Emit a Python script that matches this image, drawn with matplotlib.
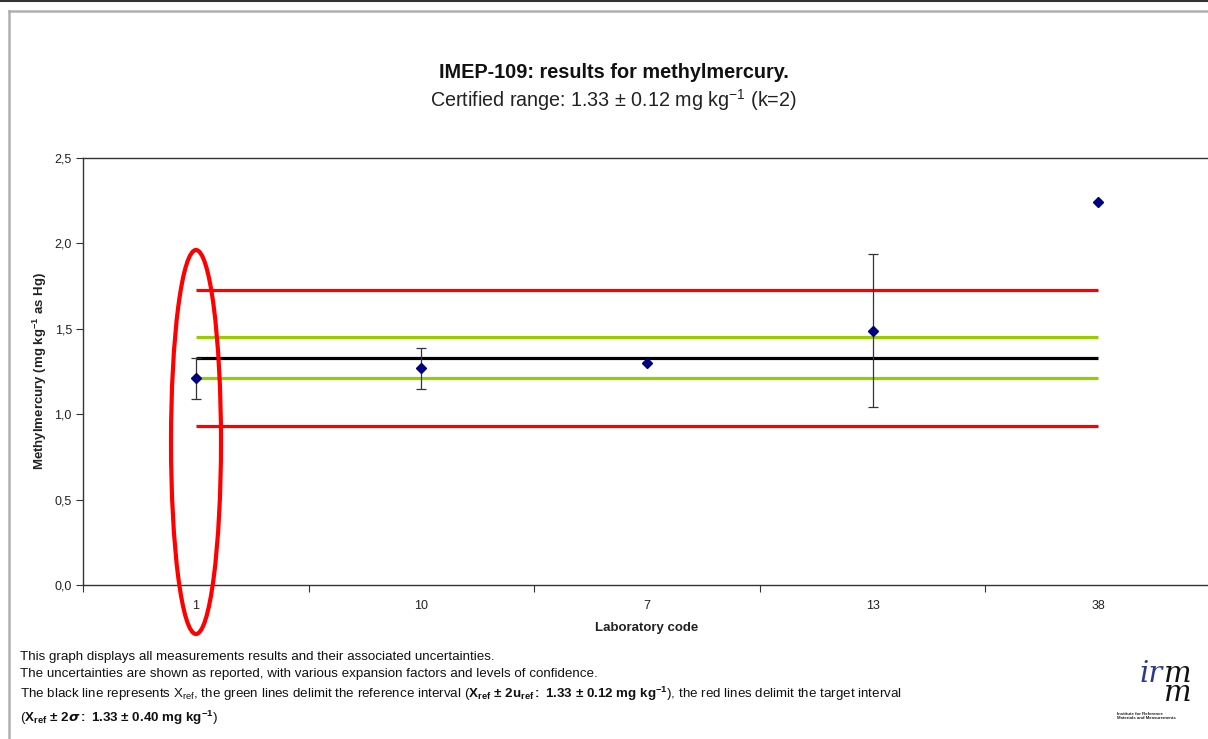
import matplotlib
matplotlib.use("Agg")
import matplotlib.pyplot as plt
from matplotlib.patches import Ellipse
from matplotlib.lines import Line2D
from matplotlib.ticker import FuncFormatter, FixedLocator

plt.rcParams['font.family'] = ['Liberation Sans', 'DejaVu Sans']
plt.rcParams['mathtext.fontset'] = 'custom'
plt.rcParams['mathtext.rm'] = 'Liberation Sans'
plt.rcParams['mathtext.it'] = 'Liberation Sans:italic'
plt.rcParams['mathtext.bf'] = 'Liberation Sans:bold'

# ---- data ----
lab_codes = ["1", "10", "7", "13", "38"]
results = [1.21, 1.27, 1.30, 1.49, 2.24]
uncert = [0.12, 0.12, 0.0, 0.45, 0.0]
x_ref = 1.33
ref_low, ref_high = 1.21, 1.45
target_low, target_high = 0.93, 1.73
y_ticks = [0.0, 0.5, 1.0, 1.5, 2.0, 2.5]

W, H = 1208, 739
fig = plt.figure(figsize=(W / 100, H / 100), dpi=100)

def fx(px):
    return px / W

def fy(py):
    return 1 - py / H

ax = fig.add_axes([fx(83), fy(585), fx(1211 - 83), (585 - 158) / H])
xs = list(range(len(lab_codes)))
n = len(lab_codes)

# reference lines
ax.plot([0, n - 1], [target_high] * 2, color='#ff0000', lw=2.3, solid_capstyle='butt', zorder=2)
ax.plot([0, n - 1], [target_low] * 2, color='#ff0000', lw=2.3, solid_capstyle='butt', zorder=2)
ax.plot([0, n - 1], [ref_high] * 2, color='#99cc00', lw=2.3, solid_capstyle='butt', zorder=2)
ax.plot([0, n - 1], [ref_low] * 2, color='#99cc00', lw=2.3, solid_capstyle='butt', zorder=2)
ax.plot([0, n - 1], [x_ref] * 2, color='#000000', lw=2.3, solid_capstyle='butt', zorder=2)

# results with uncertainties
for xi, v, u in zip(xs, results, uncert):
    if u > 0:
        ax.errorbar(xi, v, yerr=u, fmt='none', ecolor='#333333', elinewidth=0.9,
                    capsize=3.5, capthick=0.9, zorder=3)
ax.plot(xs, results, linestyle='none', marker='D', ms=5, color='#000080', zorder=4)

ax.set_xlim(-0.5, n - 0.5)
ax.set_ylim(0, 2.5)
ax.yaxis.set_major_locator(FixedLocator(y_ticks))
ax.yaxis.set_major_formatter(FuncFormatter(lambda v, p: f"{v:.1f}".replace('.', ',')))
ax.set_xticks([i - 0.5 for i in range(n + 1)])
ax.set_xticklabels([])
ax.set_xticks(xs, minor=True)
ax.set_xticklabels(lab_codes, minor=True)
ax.tick_params(axis='x', which='minor', length=0, pad=11, labelsize=9, colors='#222222')
ax.tick_params(axis='x', which='major', length=5, width=0.8, color='#333333', direction='out')
ax.tick_params(axis='y', length=5, width=0.8, color='#333333', direction='out', labelsize=9,
               labelcolor='#222222', pad=3)
for s in ['left', 'bottom', 'top']:
    ax.spines[s].set_color('#333333')
    ax.spines[s].set_linewidth(1.0)
ax.spines['right'].set_visible(False)

fig.text(fx(647), fy(628), "Laboratory code", ha='center', va='center', fontsize=9.5,
         fontweight='bold', color='#222222')
fig.text(fx(40), fy(371), r"Methylmercury (mg kg$^{\mathbf{-1}}$ as Hg)", ha='center', va='center',
         rotation=90, fontsize=9.5, fontweight='bold', color='#222222')

# titles
fig.text(fx(614), fy(73), "IMEP-109: results for methylmercury.", ha='center', va='center',
         fontsize=14.3, fontweight='bold', color='#111111')
fig.text(fx(613), fy(100), r"Certified range: 1.33 ± 0.12 mg kg$^{\mathrm{-1}}$ (k=2)", ha='center',
         va='center', fontsize=14.2, color='#222222')

# red ellipse highlight
ell = Ellipse((fx(196), fy(442)), fx(50), 384 / H, transform=fig.transFigure,
              fill=False, edgecolor='#ff0000', lw=3, zorder=10)
fig.add_artist(ell)

# footnotes
fs = 9.6
fig.text(fx(20), fy(657), "This graph displays all measurements results and their associated uncertainties.",
         fontsize=fs, va='center', color='#111111')
fig.text(fx(20), fy(674), "The uncertainties are shown as reported, with various expansion factors and levels of confidence.",
         fontsize=fs, va='center', color='#111111')
fig.text(fx(20), fy(694),
         r"The black line represents X$_{\mathrm{ref}}$, the green lines delimit the reference interval "
         r"($\mathbf{X_{ref}\ {\pm}\ 2u_{ref}{:}\ 1.33\ {\pm}\ 0.12\ mg\ kg^{-1}}$), the red lines delimit the target interval",
         fontsize=fs, va='center', color='#111111')
fig.text(fx(20), fy(718),
         r"($\mathbf{X_{ref}\ {\pm}\ 2}\boldsymbol{\sigma}\mathbf{{:}\ 1.33\ {\pm}\ 0.40\ mg\ kg^{-1}}$)",
         fontsize=fs, va='center', color='#111111')

# logo
fig.text(fx(1140), fy(682), "ir", fontsize=21, family='DejaVu Serif', style='italic',
         color='#2b3a8c', va='baseline')
fig.text(fx(1164), fy(701), "m\nm", fontsize=21, family='DejaVu Serif', style='italic',
         color='#111111', va='baseline', linespacing=0.6)
fig.text(fx(1117), fy(716), "Institute for Reference\nMaterials and Measurements", fontsize=3.2,
         fontweight='bold', color='#222222', va='center', linespacing=1.0)

# page frame
fig.add_artist(Line2D([0, 1], [fy(0.8), fy(0.8)], transform=fig.transFigure, color='#333333', lw=1.5))
fig.add_artist(Line2D([fx(9), fx(9)], [fy(11), 0], transform=fig.transFigure, color='#b0b0b0', lw=1.8))
fig.add_artist(Line2D([fx(9), 1], [fy(11), fy(11)], transform=fig.transFigure, color='#b0b0b0', lw=1.8))

fig.savefig("out.png", dpi=100)
